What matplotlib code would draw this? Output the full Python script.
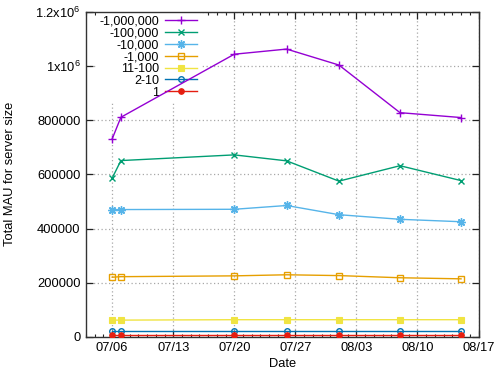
import matplotlib
matplotlib.use("Agg")
import matplotlib.pyplot as plt
from matplotlib.ticker import FixedLocator, MultipleLocator
import matplotlib.dates as mdates
from datetime import datetime

plt.rcParams['font.family'] = ['Liberation Sans', 'DejaVu Sans']
plt.rcParams['mathtext.fontset'] = 'custom'
plt.rcParams['mathtext.rm'] = 'Liberation Sans'
plt.rcParams['mathtext.it'] = 'Liberation Sans'

# ---- data ----
dates = ["2023-07-06", "2023-07-07", "2023-07-20", "2023-07-26",
         "2023-08-01", "2023-08-08", "2023-08-15"]
series_labels = ["-1,000,000", "-100,000", "-10,000", "-1,000", "11-100", "2-10", "1"]
v_1m = [731000, 811000, 1044000, 1063000, 1004000, 828000, 810000]
v_100k = [586000, 651000, 672000, 650000, 575000, 632000, 577000]
v_10k = [470000, 470000, 471000, 485000, 451000, 434000, 425000]
v_1k = [220000, 222000, 225000, 229000, 226000, 218000, 214000]
v_11_100 = [61500, 61500, 63000, 63000, 63000, 63000, 63000]
v_2_10 = [23000, 23000, 23000, 23000, 23000, 23000, 23000]
v_1 = [8000, 8000, 8000, 8000, 8000, 8000, 8000]
tick_dates = ["2023-07-06", "2023-07-13", "2023-07-20", "2023-07-27",
              "2023-08-03", "2023-08-10", "2023-08-17"]
y_ticks = [0, 200000, 400000, 600000, 800000, 1000000, 1200000]
y_ticklabels = ["0", "200000", "400000", "600000", "800000",
                r"1x10$^{6}$", r"1.2x10$^{6}$"]
x_range = ["2023-07-03", "2023-08-17"]

colors = ["#9400d3", "#009e73", "#56b4e9", "#e69f00", "#f0e442", "#0072b2", "#e51e10"]
markers = ["+", "x", (8, 2, 0), "s", "s", "o", "o"]
mfaces = [None, None, None, "none", "fill", "none", "fill"]
msizes = [6, 5, 6, 4.5, 4.5, 4, 4]

values = [v_1m, v_100k, v_10k, v_1k, v_11_100, v_2_10, v_1]

fig = plt.figure(figsize=(5, 3.75), dpi=100)
ax = fig.add_axes([0.172, 0.102, 0.785, 0.866])

x = [datetime.strptime(d, "%Y-%m-%d") for d in dates]
for lab, vals, c, m, mf, ms in zip(series_labels, values, colors, markers, mfaces, msizes):
    kw = dict(color=c, marker=m, markersize=ms, lw=1.0, label=lab, zorder=3)
    if mf == "none":
        kw["markerfacecolor"] = "none"
        kw["markeredgewidth"] = 1.0
    elif mf == "fill":
        kw["markerfacecolor"] = c
        kw["markeredgewidth"] = 0.8
    else:
        kw["markeredgewidth"] = 1.0
    ax.plot(x, vals, **kw)

ax.set_ylim(0, 1200000)
ax.set_xlim(datetime.strptime(x_range[0], "%Y-%m-%d"), datetime.strptime(x_range[1], "%Y-%m-%d"))

tdates = [mdates.date2num(datetime.strptime(d, "%Y-%m-%d")) for d in tick_dates]
ax.xaxis.set_major_locator(FixedLocator(tdates))
ax.xaxis.set_major_formatter(mdates.DateFormatter("%m/%d"))
ax.xaxis.set_minor_locator(MultipleLocator(1))
ax.set_yticks(y_ticks)
ax.set_yticklabels(y_ticklabels)

ax.tick_params(axis='both', which='both', direction='in', top=True, right=True,
               labelsize=9.3, colors='#222222', labelcolor='black')
ax.tick_params(axis='both', which='major', length=5, width=0.9)
ax.tick_params(axis='both', which='minor', length=2.5, width=0.8)
ax.tick_params(axis='x', pad=4)
ax.tick_params(axis='y', pad=4)

for s in ax.spines.values():
    s.set_color('#333333')
    s.set_linewidth(1.0)

ax.set_axisbelow(True)
ax.grid(True, which='major', color='#a8a8a8', linestyle=(0, (1, 2)), lw=0.9)

ax.set_ylabel("Total MAU for server size", fontsize=9.3)
ax.yaxis.set_label_coords(-0.178, 0.5)
ax.set_xlabel("Date", fontsize=9.3)
ax.xaxis.set_label_coords(0.5, -0.066)

leg = ax.legend(loc='upper left', markerfirst=False, frameon=True, fontsize=9,
                handlelength=2.6, handletextpad=0.45, labelspacing=-0.015,
                borderpad=0.3, borderaxespad=0.0, bbox_to_anchor=(0.025, 1.0))
leg.get_frame().set_edgecolor('none')
leg.get_frame().set_facecolor('white')
leg.get_frame().set_alpha(1.0)
leg.set_zorder(1.5)

fig.savefig("out.png", dpi=100)
